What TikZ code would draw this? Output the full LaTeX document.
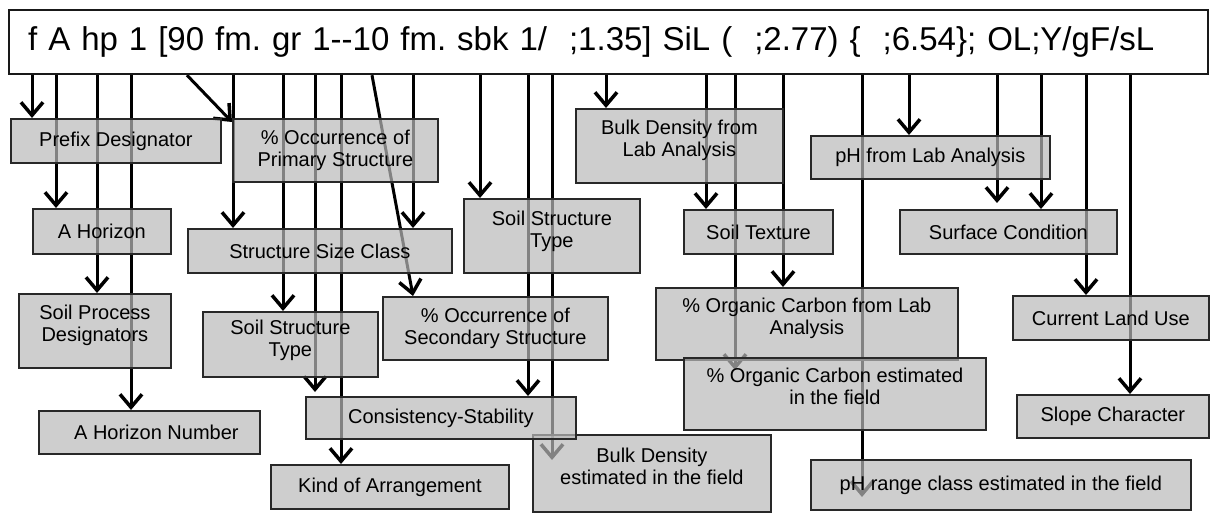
\documentclass[tikz,border=0pt]{standalone}
\usepackage{fontspec}
\setmainfont{Liberation Sans}
\usetikzlibrary{arrows.meta}
\definecolor{boxfill}{RGB}{186,186,186}
\definecolor{boxline}{RGB}{40,40,40}
\pgfdeclarelayer{bg}
\pgfsetlayers{bg,main}
\newcommand\skbox[7][]{%
  \node[box,#1,minimum width={(#5-#3)*1pt},minimum height={(#6-#4)*1pt}] (#2) at (#3,-#4) {#7};}
\begin{document}
\frenchspacing
\begin{tikzpicture}[x=1pt,y=1pt,
  box/.style={draw=boxline, line width=1.8pt, fill=boxfill, fill opacity=0.7, text opacity=1,
    anchor=north west, align=center, inner sep=2pt, font=\fontsize{20}{22}\selectfont},
  topbox/.style={draw=black!90, line width=2.2pt, fill=white, anchor=north west,
    minimum height=64pt, text width=1161pt, inner xsep=19pt, align=left,
    font=\fontsize{33}{36}\selectfont},
  arr/.style={line width=3pt, draw=black, -{Straight Barb[length=13pt,width=22pt,line width=3.5pt]}}]
\useasboundingbox (0,0) rectangle (1211,-513);
% top string
\node[topbox] (top) at (8,-9) {f A hp 1 [90 fm. gr 1-{}-10 fm. sbk 1/\ \ ;1.35] SiL (\ \ ;2.77) \{\ \ ;6.54\}; OL;Y/gF/sL};
% boxes
\skbox{prefix}{10}{118}{220}{162}{Prefix Designator}
\skbox{occprim}{232}{118}{437}{181}{\% Occurrence of\\Primary Structure}
\skbox{ahor}{32}{208}{170}{253}{A Horizon}
\skbox{sizecls}{187}{228}{451}{272}{Structure Size Class}
\skbox{soilproc}{18}{293}{170}{367}{Soil Process\\Designators\\[-7pt]}
\skbox{sstl}{202}{311}{377}{376}{Soil Structure\\Type\\[-9pt]}
\skbox{occsec}{382}{296}{607}{359}{\% Occurrence of\\Secondary Structure}
\skbox{ahnum}{38}{410}{259}{453}{\hspace*{14pt}A Horizon Number}
\skbox{bdest}{532}{434}{770}{511}{Bulk Density\\estimated in the field\\[-7pt]}
\skbox{consist}{305}{396}{575}{438}{Consistency-Stability}
\skbox{kind}{270}{464}{508}{508}{Kind of Arrangement}
\skbox{bdlab}{575}{108}{782}{182}{Bulk Density from\\Lab Analysis\\[-7pt]}
\skbox{sstm}{463}{198}{639}{272}{Soil Structure\\Type\\[-9pt]}
\skbox{texture}{683}{209}{832}{253}{Soil Texture}
\skbox{oclab}{655}{287}{957}{359}{\% Organic Carbon from Lab\\Analysis\\[-7pt]}
\skbox{ocest}{683}{357}{985}{429}{\% Organic Carbon estimated\\in the field\\[-7pt]}
\skbox{phlab}{810}{135}{1049}{178}{pH from Lab Analysis}
\skbox{surface}{899}{209}{1116}{253}{Surface Condition}
\skbox{landuse}{1012}{295}{1208}{339}{Current Land Use}
\skbox{slope}{1016}{394}{1208}{437}{Slope Character}
\skbox{phrange}{810}{459}{1190}{509}{pH range class estimated in the field}
% connectors beneath the boxes
\begin{pgfonlayer}{bg}
\fill[white] (0,0) rectangle (1211,-513);
\draw[arr] ([xshift=22pt]prefix.north west |- top.south) -- ([xshift=22pt]prefix.north west);
\draw[arr] ([xshift=24pt]ahor.north west |- top.south) -- ([xshift=24pt]ahor.north west);
\draw[arr] ([xshift=79pt]soilproc.north west |- top.south) -- ([xshift=79pt]soilproc.north west);
\draw[arr] ([xshift=93pt]ahnum.north west |- top.south) -- ([xshift=93pt]ahnum.north west);
\draw[arr] ([xshift=179pt]top.south west) -- ([yshift=-4pt]occprim.north west);
\draw[arr] ([xshift=46pt]sizecls.north west |- top.south) -- ([xshift=46pt]sizecls.north west);
\draw[arr] ([xshift=81pt]sstl.north west |- top.south) -- ([xshift=81pt]sstl.north west);
\draw[arr] ([xshift=10pt]consist.north west |- top.south) -- ([xshift=10pt,yshift=4pt]consist.north west);
\draw[arr] ([xshift=71pt]kind.north west |- top.south) -- ([xshift=71pt]kind.north west);
\draw[arr] ([xshift=364pt]top.south west) -- ([xshift=31pt]occsec.north west);
\draw[arr] ([xshift=226pt]sizecls.north west |- top.south) -- ([xshift=226pt]sizecls.north west);
\draw[arr] ([xshift=17pt]sstm.north west |- top.south) -- ([xshift=17pt]sstm.north west);
\draw[arr] ([xshift=223pt]consist.north west |- top.south) -- ([xshift=223pt]consist.north west);
\draw[arr] ([xshift=20pt]bdest.north west |- top.south) -- ([xshift=20pt,yshift=-26pt]bdest.north west);
\draw[arr] ([xshift=31pt]bdlab.north west |- top.south) -- ([xshift=31pt]bdlab.north west);
\draw[arr] ([xshift=23pt]texture.north west |- top.south) -- ([xshift=23pt]texture.north west);
\draw[arr] ([xshift=52pt]ocest.north west |- top.south) -- ([xshift=52pt,yshift=-13pt]ocest.north west);
\draw[arr] ([xshift=128pt]oclab.north west |- top.south) -- ([xshift=128pt]oclab.north west);
\draw[arr] ([xshift=52pt]phrange.north west |- top.south) -- ([xshift=52pt,yshift=-38pt]phrange.north west);
\draw[arr] ([xshift=99pt]phlab.north west |- top.south) -- ([xshift=99pt]phlab.north west);
\draw[arr] ([xshift=98pt]surface.north west |- top.south) -- ([xshift=98pt,yshift=6pt]surface.north west);
\draw[arr] ([xshift=142pt]surface.north west |- top.south) -- ([xshift=142pt]surface.north west);
\draw[arr] ([xshift=74pt]landuse.north west |- top.south) -- ([xshift=74pt]landuse.north west);
\draw[arr] ([xshift=114pt]slope.north west |- top.south) -- ([xshift=114pt]slope.north west);
\end{pgfonlayer}
\end{tikzpicture}
\end{document}
